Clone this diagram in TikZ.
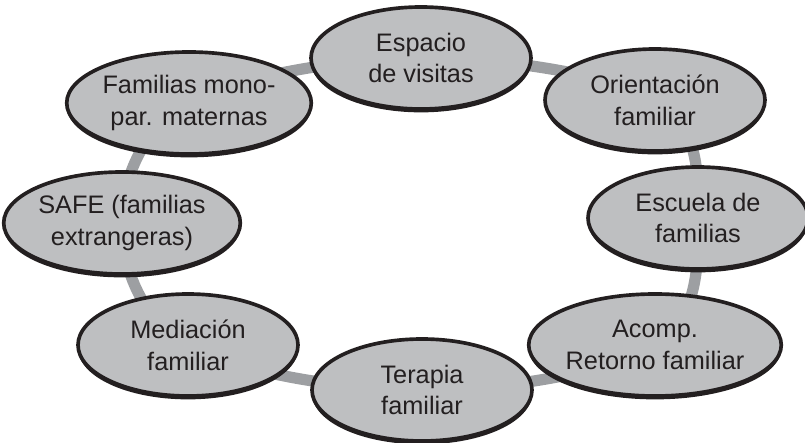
\documentclass[tikz,border=0pt]{standalone}
\usepackage{fontspec}
\setmainfont{Liberation Sans}
\usepackage{tikz}
\usetikzlibrary{shapes.geometric,shadows,positioning}
\definecolor{ovalgray}{HTML}{BEBFC1}
\definecolor{ringgray}{HTML}{9D9FA2}
\definecolor{inkgray}{HTML}{231F20}
\tikzset{%
	service/.style = {draw=inkgray, line width=2.6pt, ellipse, fill=ovalgray, inner sep=0pt,
		minimum width=5.5cm, minimum height=2.55cm, align=center, text=inkgray,
		font=\fontsize{18}{22.5}\selectfont,
		drop shadow={shadow xshift=0pt, shadow yshift=-2.4pt, fill=inkgray, opacity=1}}, % Oval
	ring/.style    = {draw=ringgray, line width=8pt}, % Ring behind
}

\begin{document}
\begin{tikzpicture}
	\useasboundingbox (0,0) rectangle (20.125,11.05);
	\coordinate (c1) at (10.525,9.6);
	\coordinate (c2) at (16.375,8.55);
	\coordinate (c3) at (17.45,5.6);
	\coordinate (c4) at (16.375,2.425);
	\coordinate (c5) at (10.55,1.3);
	\coordinate (c6) at (4.7,2.425);
	\coordinate (c7) at (3.05,5.475);
	\coordinate (c8) at (4.725,8.475);
	
	\draw[ring] plot[smooth cycle, tension=0.6] coordinates {(c1) (c2) (c3) (c4) (c5) (c6) (c7) (c8)};
	
	\node [service] (espacio) at (c1) {Espacio\\de visitas};
	\node [service] (orient) at (c2) {Orientación\\familiar};
	\node [service] (escuela) at (c3) {Escuela de\\familias};
	\node [service] (acomp) at (c4) {Acomp.\\Retorno familiar};
	\node [service] (terapia) at (c5) {Terapia\\familiar};
	\node [service] (mediacion) at (c6) {Mediación\\familiar};
	\node [service] (safe) at (c7) {SAFE (familias\\extrangeras)};
	\node [service] (familias) at (c8) {Familias mono-\\par. maternas};
\end{tikzpicture}
\end{document}
